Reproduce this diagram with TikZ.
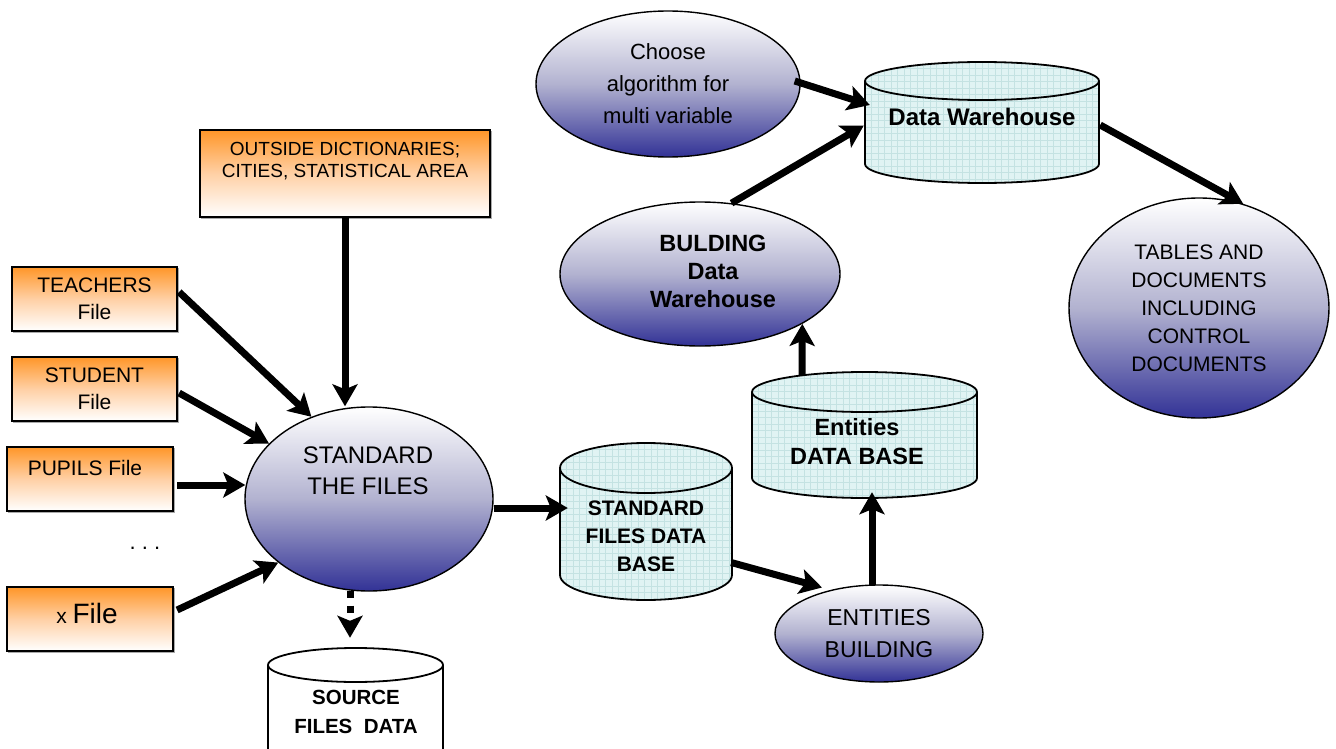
\documentclass[tikz,border=0pt]{standalone}
\usepackage{fontspec}
\setmainfont{Liberation Sans}
\usetikzlibrary{shapes.geometric,arrows.meta,calc}

\definecolor{orng}{RGB}{255,150,40}
\definecolor{peach}{RGB}{255,208,165}
\definecolor{dblue}{RGB}{50,50,150}
\definecolor{mblue}{RGB}{178,178,208}
\definecolor{cyfill}{RGB}{224,243,243}
\definecolor{gridc}{RGB}{196,226,226}
\definecolor{shadowc}{RGB}{170,170,170}

\newcommand{\fs}[2]{\fontsize{#1}{#2}\selectfont}

% cylinder: #1 cx, #2 y of top ellipse centre, #3 y of bottom ellipse centre, #4 rx, #5 ry
\newcommand{\gridcyl}[5]{%
  \fill[cyfill] (#1-#4,#2) -- (#1-#4,#3) arc[start angle=180,end angle=0,x radius=#4,y radius=#5] -- (#1+#4,#2) arc[start angle=0,end angle=-180,x radius=#4,y radius=#5] -- cycle;
  \begin{scope}
    \clip (#1-#4,#2) -- (#1-#4,#3) arc[start angle=180,end angle=0,x radius=#4,y radius=#5] -- (#1+#4,#2) arc[start angle=0,end angle=-180,x radius=#4,y radius=#5] -- cycle;
    \foreach \gx in {0,6.5,...,240} \draw[gridc,line width=0.6pt] (#1-#4+\gx,#2-#5-1) -- (#1-#4+\gx,#3+#5+1);
    \foreach \gy in {0,6.5,...,170} \draw[gridc,line width=0.6pt] (#1-#4-1,#2-#5+\gy) -- (#1+#4+1,#2-#5+\gy);
  \end{scope}
  \draw[cylline] (#1-#4,#2) -- (#1-#4,#3) arc[start angle=180,end angle=0,x radius=#4,y radius=#5] -- (#1+#4,#2) arc[start angle=0,end angle=-180,x radius=#4,y radius=#5] -- cycle;
  \draw[cylline] (#1-#4,#2) arc[start angle=180,end angle=0,x radius=#4,y radius=#5];
}
\newcommand{\plaincyl}[5]{%
  \filldraw[cylline,fill=white] (#1-#4,#2) -- (#1-#4,#3) arc[start angle=180,end angle=0,x radius=#4,y radius=#5] -- (#1+#4,#2) arc[start angle=0,end angle=-180,x radius=#4,y radius=#5] -- cycle;
  \draw[cylline] (#1-#4,#2) arc[start angle=180,end angle=0,x radius=#4,y radius=#5];
}

\begin{document}
\begin{tikzpicture}[x=1pt,y=-1pt,
  box/.style={draw=black, line width=2.2pt, top color=orng, bottom color=white, middle color=peach, inner sep=0pt,
    preaction={draw=shadowc, line width=1.5pt, transform canvas={shift={(1.5pt,-1.5pt)}}}},
  ell/.style={ellipse, draw=black, line width=1.4pt, top color=white, bottom color=dblue, middle color=mblue, inner sep=0pt, align=center},
  cylline/.style={draw=black, line width=1.8pt},
  cylbox/.style={draw=none, inner sep=0pt},
  lbl/.style={inner sep=0pt, align=center},
  arr/.style={line width=7pt, -{Stealth[length=22pt,width=25pt,inset=5pt]}},
  darr/.style={line width=7pt, dash pattern=on 7pt off 8pt, -{Stealth[length=22pt,width=25pt,inset=5pt]}},
]
\useasboundingbox (0,0) rectangle (1336,749);
\clip (0,0) rectangle (1336,749);
\fill[white] (0,0) rectangle (1336,749);

% cylinders (drawn shapes)
\gridcyl{982}{81}{164}{117}{19}
\gridcyl{864.5}{392}{478}{112.5}{20}
\gridcyl{646}{468}{575}{86}{25}
\plaincyl{355.5}{665}{800}{87.5}{17}

% cylinder nodes
\node[cylbox, minimum width=234pt, minimum height=83pt] (dw) at (982,122.5) {};
\node[lbl, font=\bfseries\fs{24}{28}] (t-dw) at (982,117) {Data Warehouse};
\node[cylbox, minimum width=225pt, minimum height=86pt] (edb) at (864.5,435) {};
\node[lbl, font=\bfseries\fs{23.5}{29}] (t-edb) at (857,442) {Entities\\DATA BASE};
\node[cylbox, minimum width=172pt, minimum height=107pt] (sdb) at (646,521.5) {};
\node[lbl, font=\bfseries\fs{21}{28}] (t-sdb) at (646,536) {STANDARD\\FILES DATA\\BASE};
\node[cylbox, minimum width=175pt, minimum height=84pt] (src) at (355.5,707) {};
\node[lbl, font=\bfseries\fs{20.5}{29}] (t-src) at (356,712) {SOURCE\\FILES\ \ DATA};

% boxes
\node[box, minimum width=290pt, minimum height=87pt] (outside) at (345,173.5) {};
\node[lbl, font=\fs{19}{22}] (t-outside) at (345,161) {OUTSIDE DICTIONARIES;\\CITIES, STATISTICAL AREA};
\node[box, minimum width=165pt, minimum height=64pt, font=\fs{21}{27}, align=center] (teach) at (94.5,299) {TEACHERS\\File};
\node[box, minimum width=165pt, minimum height=64pt, font=\fs{21}{27}, align=center] (stud) at (94.5,389) {STUDENT\\File};
\node[box, minimum width=166pt, minimum height=64pt] (pup) at (90,479) {};
\node[lbl, font=\fs{21}{24}] (t-pup) at (85,468) {PUPILS File};
\node[lbl, font=\fs{22}{24}] (dots) at (145,548) {.\ .\ .};
\node[box, minimum width=166pt, minimum height=64pt] (xf) at (90,619) {};
\node[lbl] (t-xf) at (87,613) {\fs{21}{24}x \fs{28}{30}File};

% ellipses
\node[ell, minimum width=264pt, minimum height=146pt, font=\fs{22}{32}] (choose) at (668,84) {Choose\\algorithm for\\multi variable};
\node[ell, minimum width=248pt, minimum height=184pt] (std) at (369,499) {};
\node[lbl, font=\fs{24}{31}] (t-std) at (368,470.5) {STANDARD\\THE FILES};
\node[ell, minimum width=280pt, minimum height=144pt] (bw) at (700,274) {};
\node[lbl, font=\bfseries\fs{23.5}{28}] (t-bw) at (713,271) {BULDING\\Data\\Warehouse};
\node[ell, minimum width=208pt, minimum height=97pt, font=\fs{23}{32}] (eb) at (879,633.5) {ENTITIES\\BUILDING};
\node[ell, minimum width=260pt, minimum height=220pt, font=\fs{21}{28}] (tables) at (1199,308) {TABLES AND\\DOCUMENTS\\INCLUDING\\CONTROL\\DOCUMENTS};

% connectors
\draw[arr] (outside.south) -- (outside.south |- std.north);
\draw[arr] ($(teach.east)+(1,-7)$) -- (std.125);
\draw[arr] ($(stud.east)+(1,4)$) -- (std.151);
\draw[arr] ($(pup.east)+(3,6)$) -- ($(std.west)+(1,-14)$);
\draw[arr] ($(xf.east)+(3,-9)$) -- (std.215);
\draw[arr] ($(std.east)+(0,9)$) -- ($(sdb.west)+(8,-13.5)$);
\draw[arr] ($(sdb.east)+(-1,41)$) -- ($(eb.center)+(-57,-46)$);
\draw[arr] ($(eb.north)+(-7,1)$) -- ($(edb.south)+(7.5,14)$);
\draw[arr] ($(edb.north)+(-62.5,-17)$) -- (bw.334);
\draw[arr] (bw.66) -- ($(dw.west)+(-1,3)$);
\draw[arr] ($(choose.east)+(-6,-3)$) -- ($(dw.west)+(5,-17.5)$);
\draw[arr] ($(dw.east)+(1,2.5)$) -- (tables.67);
\draw[darr] ($(std.south)+(-19,-1)$) -- ($(src.north)+(-5.5,-27)$);
\end{tikzpicture}
\end{document}
